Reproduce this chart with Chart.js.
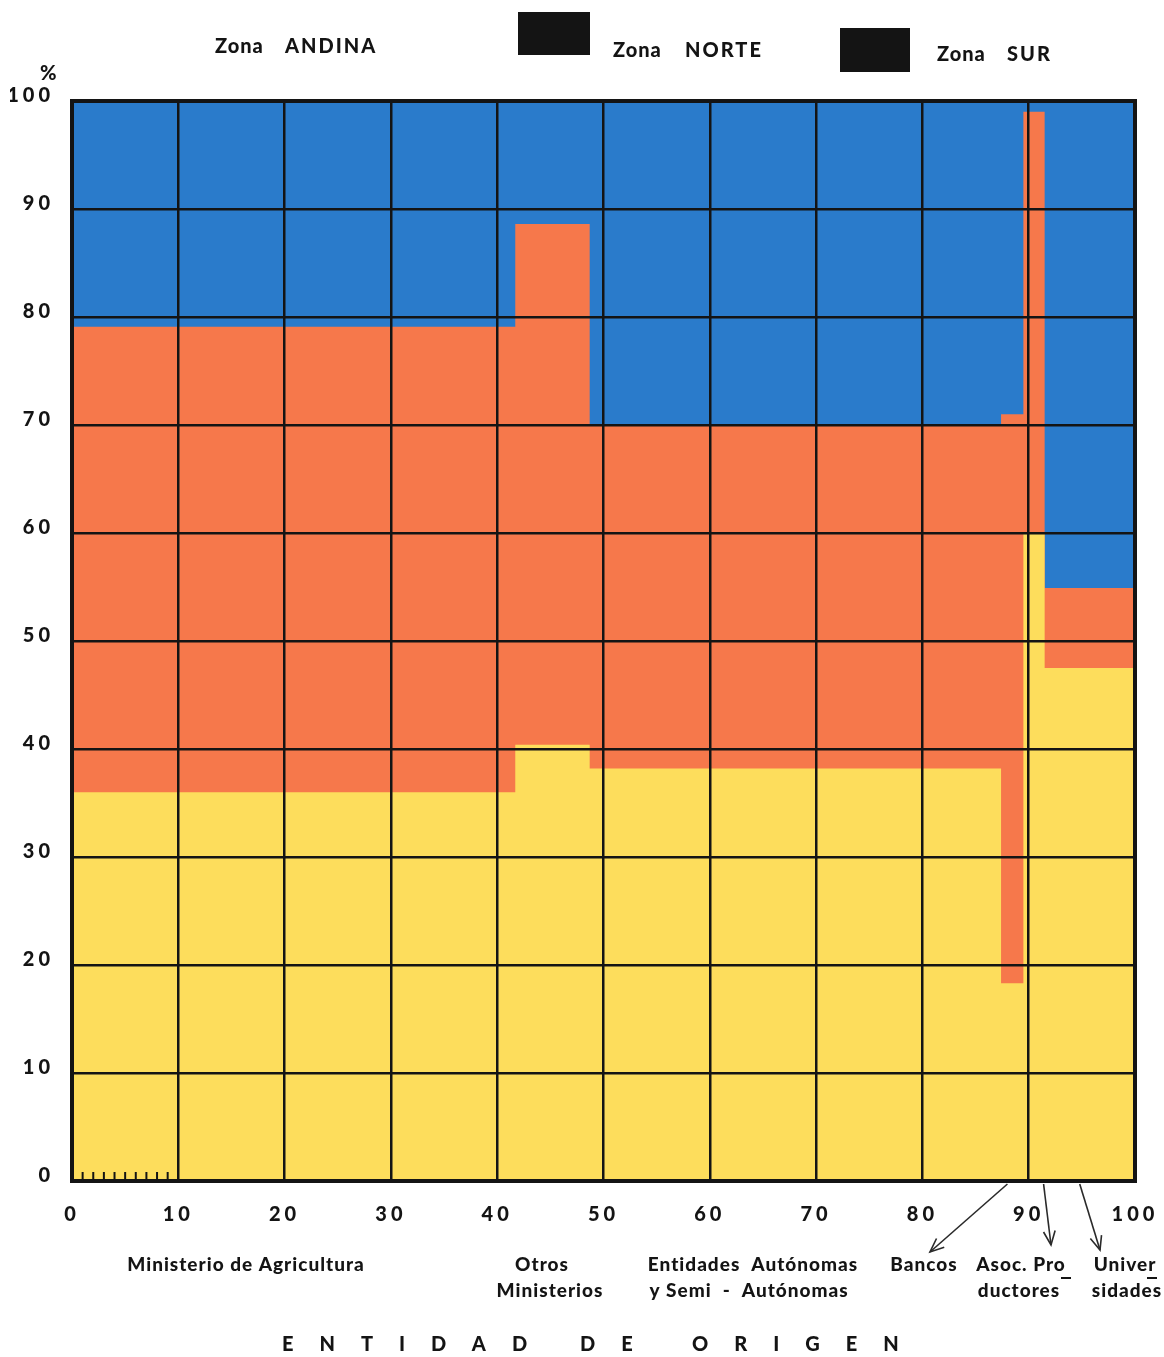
<!DOCTYPE html>
<html>
<head>
<meta charset="utf-8">
<script src="https://cdn.jsdelivr.net/npm/chart.js@4.4.1/dist/chart.umd.min.js"></script>
<style>
  html, body { margin: 0; padding: 0; background: #ffffff; }
  #wrap { width: 1164px; height: 1357px; position: relative; }
</style>
</head>
<body>
<div id="wrap"><canvas id="grafico"></canvas></div>
<script>
// ===== Datos =====
const categorias = ['Ministerio de Agricultura', 'Otros Ministerios', 'Entidades Autónomas y Semi-Autónomas', 'Bancos', 'Asoc. Productores', 'Universidades']
// inicio acumulado de cada entidad en el eje x (%), la última termina en 100
const inicioX = [0, 41.7, 48.7, 87.4, 89.5, 91.5]
const finX = 100
// porcentaje por zona dentro de cada entidad
const serieAmarilla = [36.0, 40.4, 38.2, 18.3, 60.0, 47.5]
const serieNaranja = [43.1, 48.2, 31.7, 52.7, 39.0, 7.4]
const serieAzul = [20.9, 11.4, 30.1, 29.0, 1.0, 45.1]
const ticksEje = [0, 10, 20, 30, 40, 50, 60, 70, 80, 90, 100]
const subdivisiones = [1, 2, 3, 4, 5, 6, 7, 8, 9]

const colores = { amarillo: '#fddd5c', naranja: '#f6784b', azul: '#2a7bcb' }

// techo acumulado de cada franja, como escalón
function escalones(...series) {
  const pts = inicioX.map((x0, i) => ({ x: x0, y: series.reduce((s, arr) => s + arr[i], 0) }))
  pts.push({ x: finX, y: pts[pts.length - 1].y })
  return pts
}

function franja(label, data, color) {
  return {
    label, data,
    stepped: true,
    fill: 'origin',
    backgroundColor: color,
    borderColor: color,
    borderWidth: 0,
    pointRadius: 0
  }
}

const fuente = 'Lato, "DejaVu Sans", sans-serif'
const tinta = '#141414'

const decoraciones = {
  id: 'decoraciones',
  beforeDraw(chart) {
    chart.ctx.letterSpacing = '4px'
  },
  afterDraw(chart) {
    const { ctx, chartArea: a, scales: { x } } = chart
    ctx.save()
    ctx.letterSpacing = '0px'

    // marco
    ctx.strokeStyle = tinta
    ctx.lineWidth = 4
    ctx.strokeRect(a.left, a.top, a.right - a.left, a.bottom - a.top)

    // subdivisiones de 0 a 10
    ctx.lineWidth = 2
    subdivisiones.forEach(v => {
      const px = x.getPixelForValue(v)
      ctx.beginPath(); ctx.moveTo(px, a.bottom); ctx.lineTo(px, a.bottom - 9); ctx.stroke()
    })

    // leyenda
    ctx.fillStyle = tinta
    ctx.textBaseline = 'alphabetic'
    ctx.textAlign = 'left'
    ctx.font = `900 20px ${fuente}`
    ctx.letterSpacing = '1px'
    ctx.fillText('Zona', 215, 53)
    ctx.fillText('Zona', 613, 57)
    ctx.fillText('Zona', 937, 61)
    ctx.letterSpacing = '2px'
    ctx.fillText('ANDINA', 285, 53)
    ctx.fillText('NORTE', 685, 57)
    ctx.fillText('SUR', 1007, 61)
    ctx.fillRect(518, 12, 72, 43)
    ctx.fillRect(840, 28, 70, 44)

    // símbolo %
    ctx.letterSpacing = '0px'
    ctx.font = `900 20px ${fuente}`
    ctx.fillText('%', 40, 80)

    // nombres de las entidades
    ctx.textAlign = 'center'
    ctx.font = `900 19px ${fuente}`
    ctx.letterSpacing = '1px'
    const textos = [
      ['Ministerio de Agricultura', 246, 1271],
      ['Otros', 542, 1271], ['Ministerios', 550, 1297],
      ['Entidades  Autónomas', 753, 1271], ['y Semi  -  Autónomas', 749, 1297],
      ['Bancos', 924, 1271],
      ['Asoc. Pro', 1021, 1271], ['ductores', 1019, 1297],
      ['Univer', 1125, 1271], ['sidades', 1127, 1297]
    ]
    textos.forEach(([t, px, py]) => ctx.fillText(t, px, py))
    ctx.lineWidth = 2
    ;[[1061, 1071, 1278], [1147, 1157, 1278]].forEach(([x1, x2, yy]) => {
      ctx.beginPath(); ctx.moveTo(x1, yy); ctx.lineTo(x2, yy); ctx.stroke()
    })

    // flechas hacia las entidades angostas
    ctx.strokeStyle = '#2a2a2a'
    ctx.lineWidth = 1.6
    const flechas = [[88.0, 930, 1252], [91.4, 1051, 1245], [94.8, 1100, 1250]]
    flechas.forEach(([v, ex, ey]) => {
      const sx = x.getPixelForValue(v), sy = a.bottom + 3
      const ang = Math.atan2(ey - sy, ex - sx)
      ctx.beginPath(); ctx.moveTo(sx, sy); ctx.lineTo(ex, ey); ctx.stroke()
      ctx.beginPath()
      ctx.moveTo(ex - 15 * Math.cos(ang - 0.4), ey - 15 * Math.sin(ang - 0.4))
      ctx.lineTo(ex, ey)
      ctx.lineTo(ex - 15 * Math.cos(ang + 0.4), ey - 15 * Math.sin(ang + 0.4))
      ctx.stroke()
    })

    // título del eje x
    ctx.fillStyle = tinta
    ctx.textAlign = 'left'
    ctx.font = `900 20px ${fuente}`
    ctx.letterSpacing = '26px'
    ctx.fillText('ENTIDAD', 282, 1351)
    ctx.fillText('DE', 580, 1351)
    ctx.fillText('ORIGEN', 692, 1351)
    ctx.restore()
  }
}

const ctx = document.getElementById('grafico').getContext('2d')
window.graficoEntidades = new Chart(ctx, {
  type: 'line',
  data: {
    datasets: [
      franja('Zona amarilla', escalones(serieAmarilla), colores.amarillo),
      franja('Zona naranja', escalones(serieAmarilla, serieNaranja), colores.naranja),
      franja('Zona azul', escalones(serieAmarilla, serieNaranja, serieAzul), colores.azul)
    ]
  },
  options: {
    responsive: true,
    maintainAspectRatio: false,
    animation: false,
    layout: { padding: { left: 10, right: 29, top: 101, bottom: 0 } },
    plugins: { legend: { display: false }, tooltip: { enabled: false } },
    scales: {
      x: {
        type: 'linear', min: 0, max: 100,
        afterFit: s => { s.height = 176; s.paddingLeft = 0; s.paddingRight = 0 },
        afterBuildTicks: s => { s.ticks = ticksEje.map(v => ({ value: v })) },
        ticks: { color: tinta, padding: 22, font: { family: fuente, size: 20, weight: '900' }, maxRotation: 0 },
        grid: { color: tinta, lineWidth: 2.5, drawTicks: false, z: 1 },
        border: { display: false }
      },
      y: {
        type: 'linear', min: 0, max: 100,
        afterFit: s => { s.width = 62; s.paddingTop = 0; s.paddingBottom = 0 },
        afterBuildTicks: s => { s.ticks = ticksEje.map(v => ({ value: v })) },
        ticks: { color: tinta, padding: 18, labelOffset: -5, font: { family: fuente, size: 20, weight: '900' } },
        grid: { color: tinta, lineWidth: 2.5, drawTicks: false, z: 1 },
        border: { display: false }
      }
    }
  },
  plugins: [decoraciones]
})
</script>
</body>
</html>
